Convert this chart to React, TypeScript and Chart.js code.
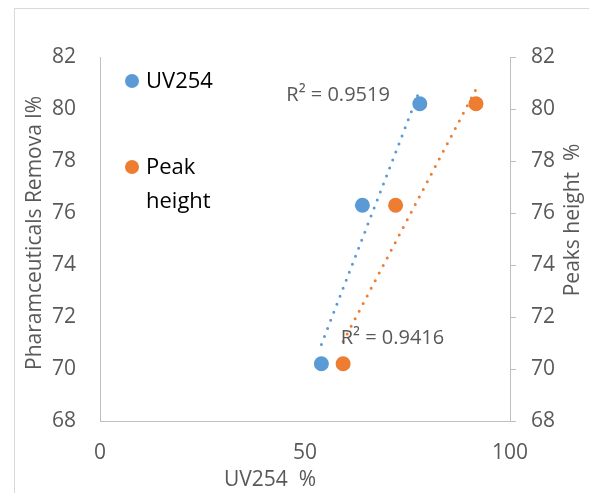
import React, { useEffect, useRef } from 'react';
import { Chart, registerables } from 'chart.js';

Chart.register(...registerables);

// ---- data ----
const seriesNames = ['UV254', 'Peak height'];
const uvX = [54, 64, 78];
const peakX = [59.3, 72.1, 91.7];
const removalY = [70.2, 76.3, 80.2];
const xTickValues = [0, 50, 100];
const yTickMin = 68;
const yTickMax = 82;
const yTickStep = 2;
const r2Labels = ['R² = 0.9519', 'R² = 0.9416'];
// anchor of each R² label in data units: [x, y]
const r2AnchorX = [70.7, 58.7];
const r2AnchorY = [80.54, 71.19];
const xTitle = 'UV254  %';
const yTitle = 'Pharamceuticals Remova l%';
const y2Title = 'Peaks height  %';

const BLUE = '#5B9BD5';
const ORANGE = '#ED7D31';
const GRAY_TEXT = '#595959';
const AXIS = '#bfbfbf';
const FONT = "'Open Sans', 'Noto Sans', sans-serif";

function trend(xs: number[], ys: number[]) {
  const n = xs.length;
  const mx = xs.reduce((a, b) => a + b, 0) / n;
  const my = ys.reduce((a, b) => a + b, 0) / n;
  let sxy = 0, sxx = 0;
  for (let i = 0; i < n; i++) {
    sxy += (xs[i] - mx) * (ys[i] - my);
    sxx += (xs[i] - mx) * (xs[i] - mx);
  }
  const slope = sxy / sxx;
  const b = my - slope * mx;
  const x0 = Math.min(...xs);
  const x1 = Math.max(...xs);
  return [
    { x: x0, y: slope * x0 + b },
    { x: x1, y: slope * x1 + b },
  ];
}

const overlay = {
  id: 'overlay',
  afterDraw(chart: any) {
    const { ctx, chartArea, scales } = chart;
    const xs = scales.x;
    const ys = scales.y;
    ctx.save();
    // outer frame
    ctx.strokeStyle = '#d9d9d9';
    ctx.lineWidth = 1;
    ctx.strokeRect(14.5, 8.5, 800, 800);

    // legend
    const lx = chartArea.left + 32;
    ctx.font = `22px ${FONT}`;
    ctx.textBaseline = 'middle';
    ctx.textAlign = 'left';
    ctx.fillStyle = BLUE;
    ctx.beginPath();
    ctx.arc(lx, chartArea.top + 24, 7, 0, Math.PI * 2);
    ctx.fill();
    ctx.fillStyle = '#000';
    ctx.fillText(seriesNames[0], lx + 14, chartArea.top + 25);
    ctx.fillStyle = ORANGE;
    ctx.beginPath();
    ctx.arc(lx, chartArea.top + 110, 7, 0, Math.PI * 2);
    ctx.fill();
    ctx.fillStyle = '#000';
    const words = seriesNames[1].split(' ');
    ctx.fillText(words[0], lx + 14, chartArea.top + 111);
    ctx.fillText(words[1], lx + 14, chartArea.top + 145);

    // R² labels
    ctx.font = `20px ${FONT}`;
    ctx.fillStyle = GRAY_TEXT;
    ctx.textAlign = 'right';
    ctx.fillText(r2Labels[0], xs.getPixelForValue(r2AnchorX[0]), ys.getPixelForValue(r2AnchorY[0]));
    ctx.textAlign = 'left';
    ctx.fillText(r2Labels[1], xs.getPixelForValue(r2AnchorX[1]), ys.getPixelForValue(r2AnchorY[1]));

    // axis titles
    ctx.font = `21px ${FONT}`;
    ctx.textAlign = 'center';
    ctx.fillText(xTitle, chartArea.left + 170, chartArea.bottom + 59);
    ctx.save();
    ctx.translate(35, (chartArea.top + chartArea.bottom) / 2 - 6);
    ctx.rotate(-Math.PI / 2);
    ctx.fillText(yTitle, 0, 0);
    ctx.restore();
    ctx.save();
    ctx.translate(chartArea.right + 63, (chartArea.top + chartArea.bottom) / 2 - 19);
    ctx.rotate(-Math.PI / 2);
    ctx.fillText(y2Title, 0, 0);
    ctx.restore();
    ctx.restore();
  },
};

export default function App() {
  const ref = useRef<HTMLCanvasElement | null>(null);
  useEffect(() => {
    if (!ref.current) return;
    const tickFont = { size: 21, family: FONT };
    const chart = new Chart(ref.current, {
      type: 'scatter',
      data: {
        datasets: [
          {
            label: seriesNames[0],
            data: uvX.map((x, i) => ({ x, y: removalY[i] })),
            backgroundColor: BLUE,
            borderColor: BLUE,
            pointRadius: 7.5,
            pointBorderWidth: 0,
            xAxisID: 'x',
            yAxisID: 'y',
          },
          {
            label: seriesNames[1],
            data: peakX.map((x, i) => ({ x, y: removalY[i] })),
            backgroundColor: ORANGE,
            borderColor: ORANGE,
            pointRadius: 7.5,
            pointBorderWidth: 0,
            xAxisID: 'x',
            yAxisID: 'y1',
          },
          {
            label: 'trend-uv',
            data: trend(uvX, removalY),
            showLine: true,
            pointRadius: 0,
            borderColor: BLUE,
            borderWidth: 3,
            borderDash: [0, 8.6],
            borderCapStyle: 'round',
            xAxisID: 'x',
            yAxisID: 'y',
          },
          {
            label: 'trend-peak',
            data: trend(peakX, removalY),
            showLine: true,
            pointRadius: 0,
            borderColor: ORANGE,
            borderWidth: 3,
            borderDash: [0, 8.6],
            borderCapStyle: 'round',
            xAxisID: 'x',
            yAxisID: 'y1',
          },
        ],
      } as any,
      options: {
        responsive: false,
        animation: false,
        layout: { padding: { top: 57, left: 0, right: 0, bottom: 0 } },
        plugins: { legend: { display: false }, tooltip: { enabled: false } },
        scales: {
          x: {
            type: 'linear',
            position: 'bottom',
            min: xTickValues[0],
            max: xTickValues[xTickValues.length - 1],
            afterBuildTicks: (s: any) => {
              s.ticks = xTickValues.map((v) => ({ value: v }));
            },
            ticks: { color: GRAY_TEXT, font: tickFont, padding: 19, maxRotation: 0 },
            grid: { drawOnChartArea: false, drawTicks: false },
            border: { display: true, color: AXIS, width: 1 },
            afterFit: (s: any) => {
              s.height = 72;
            },
          },
          y: {
            type: 'linear',
            position: 'left',
            min: yTickMin,
            max: yTickMax,
            ticks: { stepSize: yTickStep, color: GRAY_TEXT, font: tickFont, padding: 24 },
            grid: { drawOnChartArea: false, drawTicks: false },
            border: { display: true, color: AXIS, width: 1 },
            afterFit: (s: any) => {
              s.width = 100;
            },
          },
          y1: {
            type: 'linear',
            position: 'right',
            min: yTickMin,
            max: yTickMax,
            ticks: { stepSize: yTickStep, color: GRAY_TEXT, font: tickFont, padding: 15 },
            grid: { drawOnChartArea: false, drawTicks: true, tickLength: 6, color: AXIS },
            border: { display: true, color: AXIS, width: 1 },
            afterFit: (s: any) => {
              s.width = 79;
            },
          },
        },
      } as any,
      plugins: [overlay],
    });
    return () => chart.destroy();
  }, []);
  return (
    <div style={{ position: 'fixed', left: 0, top: 0, width: 589, height: 493, background: '#fff' }}>
      <canvas ref={ref} width={589} height={493} style={{ display: 'block' }} />
    </div>
  );
}
